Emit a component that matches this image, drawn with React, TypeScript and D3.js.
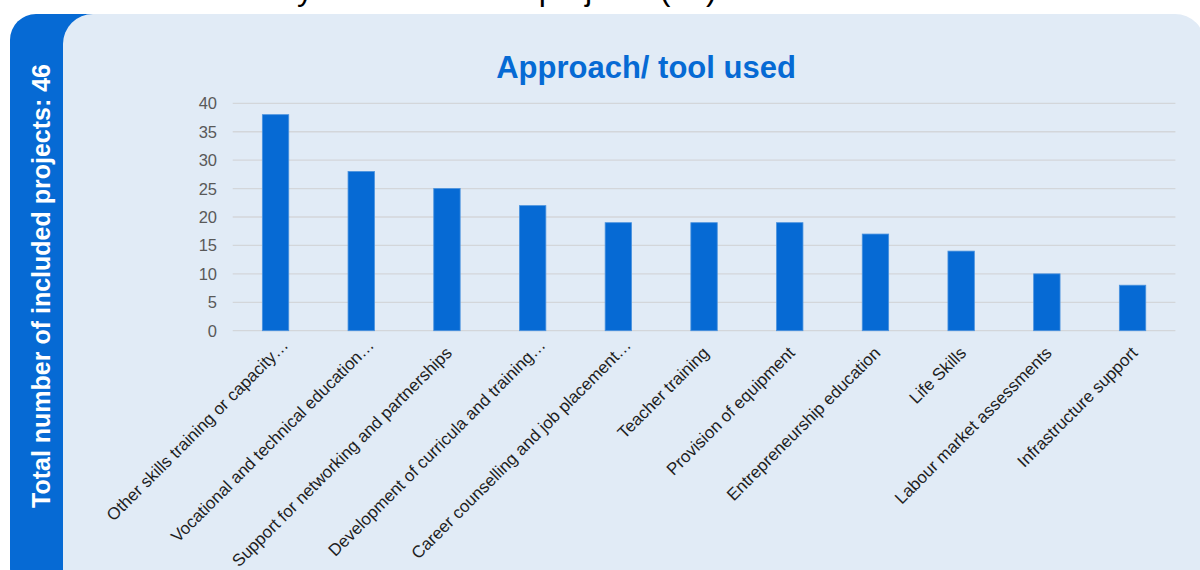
import React from "react";
import * as d3 from "d3";

const categories = [
  "Other skills training or capacity…",
  "Vocational and technical education…",
  "Support for networking and partnerships",
  "Development of curricula and training…",
  "Career counselling and job placement…",
  "Teacher training",
  "Provision of equipment",
  "Entrepreneurship education",
  "Life Skills",
  "Labour market assessments",
  "Infrastructure support",
];
const values = [38, 28, 25, 22, 19, 19, 19, 17, 14, 10, 8];
const yTicks = [0, 5, 10, 15, 20, 25, 30, 35, 40];
const chartTitle = "Approach/ tool used";
const sideLabel = "Total number of included projects: 46";
const topTitle = "Summary of the included projects (46)";

const W = 1200;
const H = 570;
const BLUE = "#066ad4";
const PANEL = "#e1ebf6";
const FONT = "'Liberation Sans', Arial, Helvetica, sans-serif";

export default function App() {
  const x = d3
    .scaleBand<string>()
    .domain(categories)
    .range([232.7, 1175.4])
    .paddingInner(0.692)
    .paddingOuter(0.346);
  const y = d3.scaleLinear().domain([0, 40]).range([330.7, 103.3]);

  return (
    <div style={{ position: "absolute", left: 0, top: 0, width: W, height: H }}>
      <svg width={W} height={H} style={{ display: "block", fontFamily: FONT }}>
        <rect x={0} y={0} width={W} height={H} fill="#ffffff" />
        {/* top cut title (only descenders visible, as in the reference) */}
        <text x={176} y={0} fontSize={32} fill="#000">
          {topTitle}
        </text>
        {/* blue side panel */}
        <rect x={10} y={14} width={200} height={580} rx={26} ry={26} fill={BLUE} />
        <text
          transform={`translate(50,286) rotate(-90)`}
          textAnchor="middle"
          fontSize={25}
          fontWeight="bold"
          fill="#ffffff"
        >
          {sideLabel}
        </text>
        {/* light panel */}
        <rect x={63} y={14} width={1142} height={590} rx={30} ry={30} fill={PANEL} />
        {/* chart title */}
        <text x={646} y={78} textAnchor="middle" fontSize={31} fontWeight="bold" fill={BLUE}>
          {chartTitle}
        </text>
        {/* gridlines */}
        {yTicks.map((t) => (
          <line
            key={"g" + t}
            x1={x.range()[0]}
            x2={x.range()[1]}
            y1={y(t)}
            y2={y(t)}
            stroke="#d3d6da"
            strokeWidth={1.3}
          />
        ))}
        {/* y labels */}
        {yTicks.map((t) => (
          <text
            key={"y" + t}
            x={217}
            y={y(t)}
            dy="0.36em"
            textAnchor="end"
            fontSize={16.5}
            fill="#595959"
          >
            {t}
          </text>
        ))}
        {/* bars */}
        {categories.map((c, i) => (
          <rect
            key={"b" + i}
            x={x(c)}
            y={y(values[i])}
            width={x.bandwidth()}
            height={y(0) - y(values[i])}
            fill={BLUE}
            stroke="#4a92de"
            strokeWidth={0.8}
          />
        ))}
        {/* x labels */}
        {categories.map((c, i) => {
          const cx = (x(c) as number) + x.bandwidth() / 2;
          const trunc = c.endsWith("…");
          return (
            <text
              key={"x" + i}
              transform={`translate(${cx + 6},354) rotate(-45)`}
              x={trunc ? 11 : 0}
              textAnchor="end"
              fontSize={17}
              fill="#1e1e1e"
            >
              {c}
            </text>
          );
        })}
      </svg>
    </div>
  );
}
